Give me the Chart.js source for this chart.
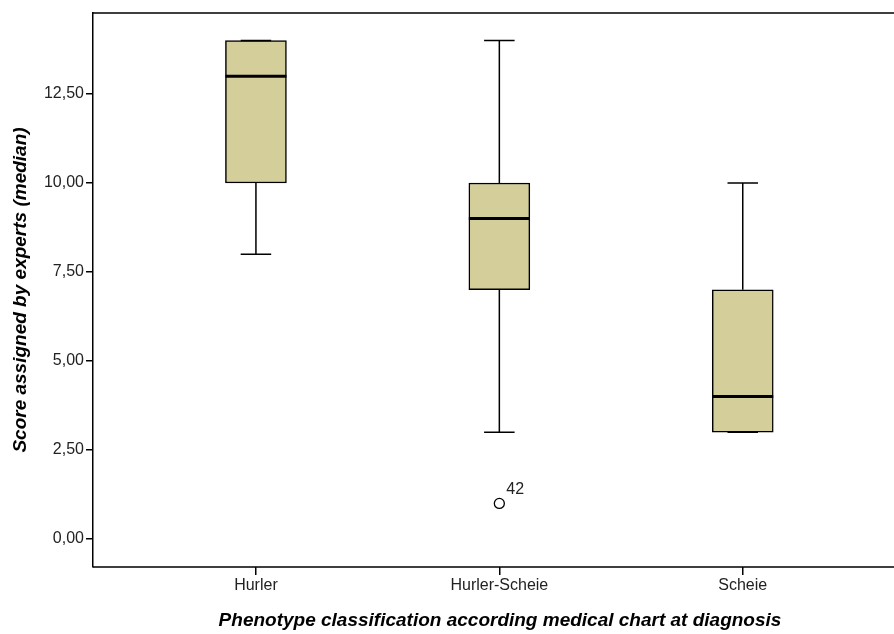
<!DOCTYPE html>
<html>
<head>
<meta charset="utf-8">
<script src="https://cdn.jsdelivr.net/npm/chart.js@4/dist/chart.umd.min.js"></script>
<style>
  html, body { margin: 0; padding: 0; background: #fff; }
  #wrap { width: 894px; height: 634px; }
</style>
</head>
<body>
<div id="wrap"><canvas id="c" width="894" height="634"></canvas></div>
<script>
// Phenotype groups and their box-plot summaries (expert score, median)
const categories   = ['Hurler', 'Hurler-Scheie', 'Scheie'];
const whiskerLow   = [8, 3, 3];
const quartile1    = [10, 7, 3];
const medians      = [13, 9, 4];
const quartile3    = [14, 10, 7];
const whiskerHigh  = [14, 14, 10];

// Outlying cases: group index, score, case label
const outlierGroup = [1];
const outlierValue = [1];
const outlierLabel = ['42'];

const yTicks = [0, 2.5, 5, 7.5, 10, 12.5];

const xTitle = 'Phenotype classification according medical chart at diagnosis';
const yTitle = 'Score assigned by experts (median)';

const FONT = "'Liberation Sans', Arial, sans-serif";
const BOX_FILL = '#d3ce9a';

const fmtComma = v => v.toFixed(2).replace('.', ',');

// Whiskers, caps, medians, case labels, frame and horizontal axis title
const boxDetails = {
  id: 'boxDetails',
  afterDatasetsDraw(chart) {
    const ctx = chart.ctx;
    const xs = chart.scales.x, ys = chart.scales.y;
    const meta = chart.getDatasetMeta(0);
    ctx.save();
    ctx.strokeStyle = '#000';
    categories.forEach((name, i) => {
      const bar = meta.data[i];
      const cx = xs.getPixelForValue(i);
      const half = bar.width / 2;
      const capHalf = half / 2;
      const yQ1 = ys.getPixelForValue(quartile1[i]);
      const yQ3 = ys.getPixelForValue(quartile3[i]);
      const yLo = ys.getPixelForValue(whiskerLow[i]);
      const yHi = ys.getPixelForValue(whiskerHigh[i]);
      const yMed = ys.getPixelForValue(medians[i]);

      ctx.lineWidth = 1.5;
      ctx.beginPath();
      ctx.moveTo(cx, yQ3); ctx.lineTo(cx, yHi);
      ctx.moveTo(cx, yQ1); ctx.lineTo(cx, yLo);
      ctx.moveTo(cx - capHalf, yHi); ctx.lineTo(cx + capHalf, yHi);
      ctx.moveTo(cx - capHalf, yLo); ctx.lineTo(cx + capHalf, yLo);
      ctx.stroke();

      ctx.lineWidth = 3;
      ctx.beginPath();
      ctx.moveTo(cx - half, yMed); ctx.lineTo(cx + half, yMed);
      ctx.stroke();
    });

    ctx.fillStyle = '#222';
    ctx.font = '16px ' + FONT;
    ctx.textAlign = 'left';
    ctx.textBaseline = 'middle';
    outlierGroup.forEach((g, k) => {
      const px = xs.getPixelForValue(g);
      const py = ys.getPixelForValue(outlierValue[k]);
      ctx.fillText(outlierLabel[k], px + 7, py - 14);
    });

    // frame: top and bottom lines run to the right edge of the canvas
    const a = chart.chartArea;
    ctx.lineWidth = 1.5;
    ctx.beginPath();
    ctx.moveTo(a.left, a.top); ctx.lineTo(chart.width, a.top);
    ctx.moveTo(a.left, a.bottom); ctx.lineTo(chart.width, a.bottom);
    ctx.stroke();

    // horizontal axis title
    ctx.fillStyle = '#000';
    ctx.font = 'italic bold 19px ' + FONT;
    ctx.textAlign = 'center';
    ctx.textBaseline = 'middle';
    ctx.fillText(xTitle, (a.left + chart.width) / 2 + 6.5, chart.height - 13);
    ctx.restore();
  }
};

new Chart(document.getElementById('c'), {
  type: 'bar',
  data: {
    datasets: [
      {
        type: 'bar',
        data: categories.map((c, i) => ({ x: i, y: [quartile1[i], quartile3[i]] })),
        backgroundColor: BOX_FILL,
        borderColor: '#000',
        borderWidth: 1.5,
        borderSkipped: false,
        barThickness: 61
      },
      {
        type: 'scatter',
        data: outlierGroup.map((g, k) => ({ x: g, y: outlierValue[k] })),
        pointStyle: 'circle',
        pointRadius: 5,
        pointBackgroundColor: '#fff',
        pointBorderColor: '#000',
        pointBorderWidth: 1.3
      }
    ]
  },
  options: {
    responsive: false,
    animation: false,
    layout: { padding: { top: 13, right: 0, left: 0, bottom: 0 } },
    plugins: { legend: { display: false }, tooltip: { enabled: false } },
    scales: {
      x: {
        type: 'linear',
        offset: false,
        min: -0.6694,
        max: 2.5955,
        afterFit(scale) { scale.height = 67; },
        afterBuildTicks(scale) { scale.ticks = categories.map((c, i) => ({ value: i })); },
        ticks: {
          callback: v => categories[v] ?? '',
          color: '#222',
          font: { family: FONT, size: 16 },
          padding: 1,
          maxRotation: 0,
          autoSkip: false
        },
        grid: { display: true, offset: false, drawOnChartArea: false, drawTicks: true, tickLength: 8, color: '#000', lineWidth: 1.5 },
        border: { display: false },
        title: { display: false }
      },
      y: {
        type: 'linear',
        min: -0.787,
        max: 14.775,
        afterFit(scale) { scale.width = 93; },
        afterBuildTicks(scale) { scale.ticks = yTicks.map(v => ({ value: v })); },
        ticks: {
          callback: v => fmtComma(v),
          color: '#222',
          font: { family: FONT, size: 16 },
          padding: 2
        },
        grid: { display: true, drawOnChartArea: false, drawTicks: true, tickLength: 7, color: '#000', lineWidth: 1.5 },
        border: { display: true, color: '#000', width: 1.5 },
        title: {
          display: true,
          text: yTitle,
          color: '#000',
          font: { family: FONT, size: 19, weight: 'bold', style: 'italic' },
          padding: { top: 9, bottom: 0 }
        }
      }
    }
  },
  plugins: [boxDetails]
});
</script>
</body>
</html>
